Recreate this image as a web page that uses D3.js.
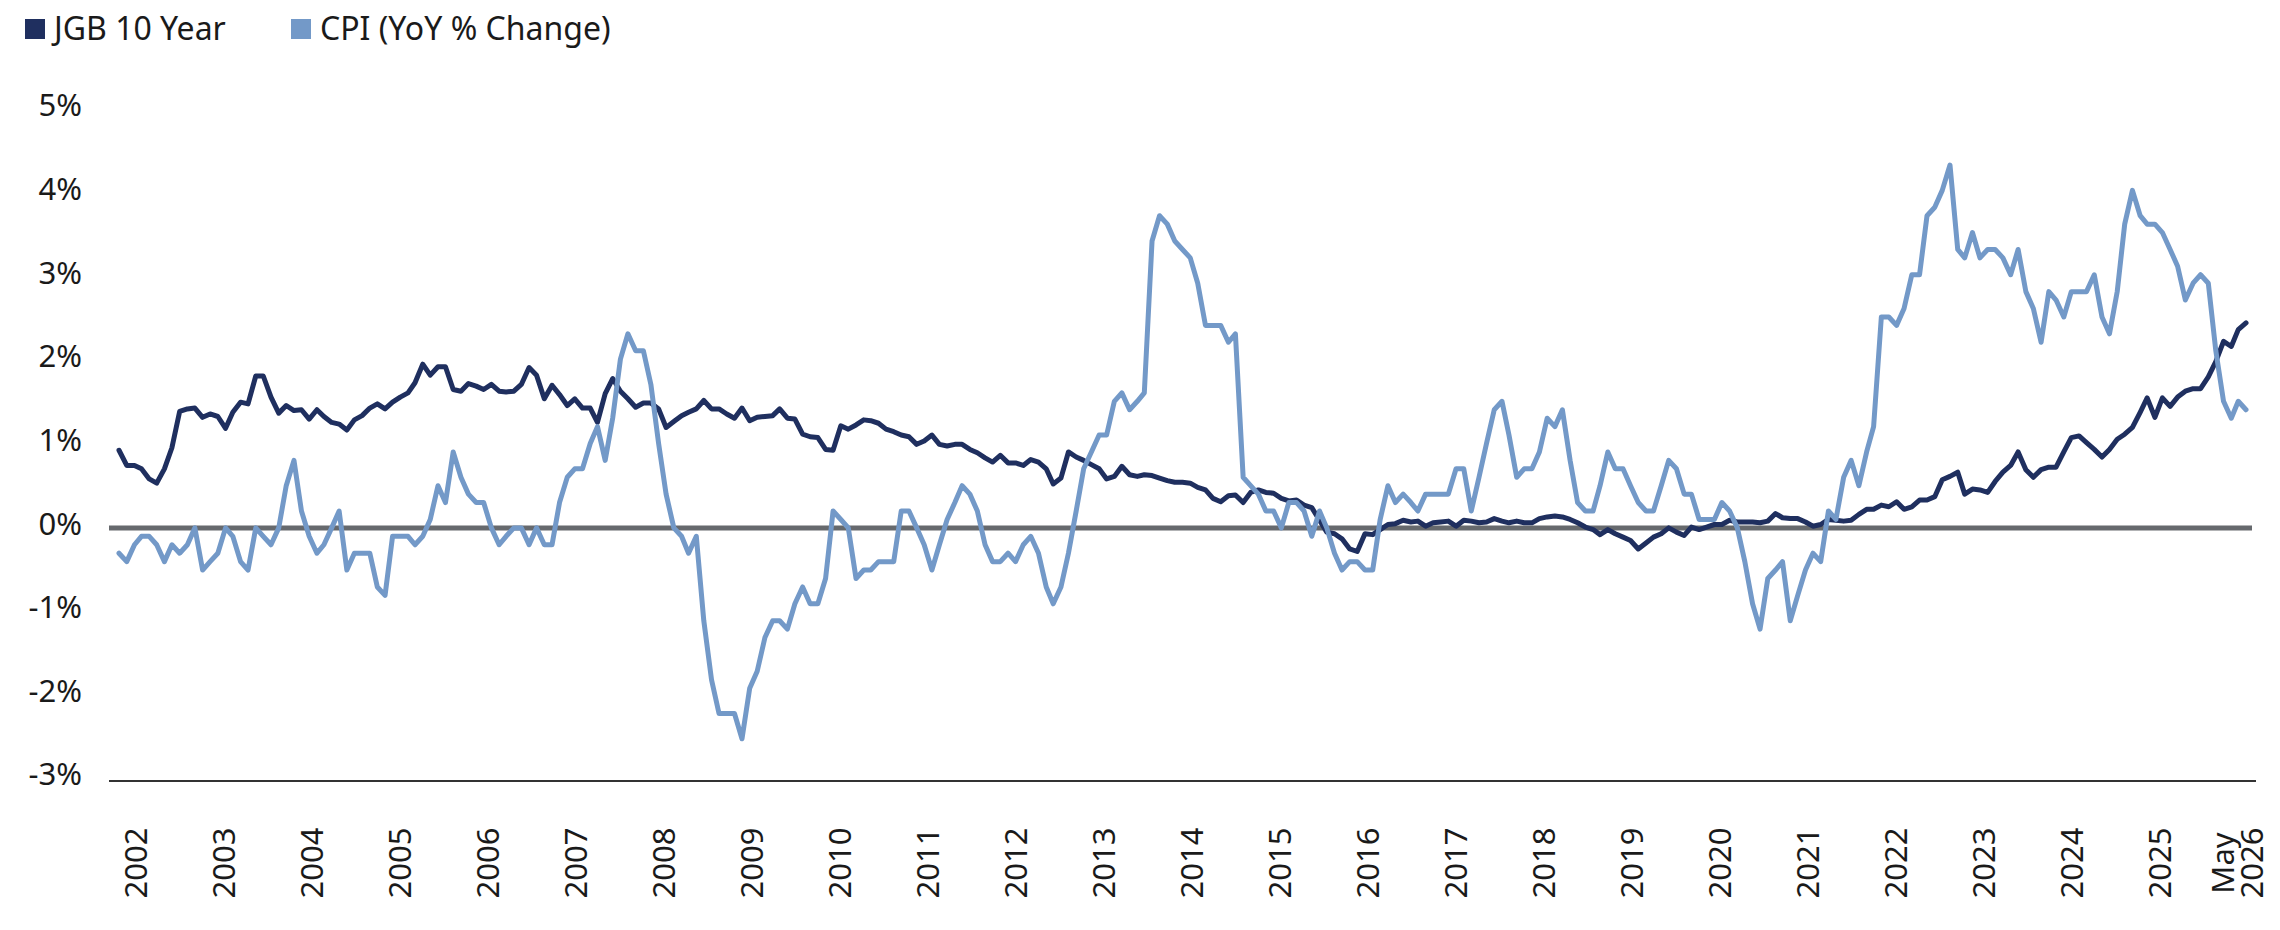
<!DOCTYPE html>
<html>
<head>
<meta charset="utf-8">
<script src="https://cdnjs.cloudflare.com/ajax/libs/d3/7.8.5/d3.min.js"></script>
<style>
  body { margin: 0; background: #ffffff; }
</style>
</head>
<body>
<div id="chart"></div>
<script>

// monthly values, Dec 2002 through Apr 2026
var firstMonth = new Date(2002, 11, 1);

var jgb10y = [
    0.92, 0.74, 0.74, 0.70, 0.58, 0.53, 0.70, 0.95, 1.38, 1.41,
    1.42, 1.31, 1.35, 1.32, 1.18, 1.37, 1.49, 1.47, 1.80, 1.80,
    1.55, 1.36, 1.45, 1.39, 1.40, 1.29, 1.40, 1.32, 1.25, 1.23,
    1.16, 1.28, 1.33, 1.42, 1.47, 1.41, 1.49, 1.55, 1.60, 1.72,
    1.94, 1.81, 1.91, 1.91, 1.64, 1.62, 1.71, 1.68, 1.64, 1.70,
    1.62, 1.61, 1.62, 1.70, 1.90, 1.81, 1.53, 1.69, 1.58, 1.45,
    1.53, 1.42, 1.42, 1.25, 1.59, 1.77, 1.62, 1.53, 1.43, 1.48,
    1.48, 1.41, 1.19, 1.26, 1.33, 1.37, 1.41, 1.51, 1.41, 1.41,
    1.35, 1.30, 1.42, 1.27, 1.31, 1.32, 1.33, 1.41, 1.30, 1.29,
    1.11, 1.08, 1.07, 0.93, 0.92, 1.21, 1.17, 1.22, 1.28, 1.27,
    1.24, 1.17, 1.14, 1.10, 1.08, 0.99, 1.03, 1.10, 0.99, 0.97,
    0.99, 0.99, 0.93, 0.89, 0.83, 0.78, 0.86, 0.77, 0.77, 0.74,
    0.81, 0.78, 0.70, 0.52, 0.59, 0.90, 0.84, 0.80, 0.75, 0.70,
    0.58, 0.61, 0.73, 0.63, 0.61, 0.63, 0.62, 0.59, 0.56, 0.54,
    0.54, 0.53, 0.48, 0.45, 0.35, 0.31, 0.38, 0.39, 0.30, 0.42,
    0.45, 0.42, 0.41, 0.35, 0.32, 0.33, 0.27, 0.24, 0.09, -0.05,
    -0.07, -0.13, -0.25, -0.28, -0.07, -0.08, -0.02, 0.04, 0.05, 0.09,
    0.07, 0.08, 0.02, 0.06, 0.07, 0.08, 0.02, 0.09, 0.08, 0.06,
    0.07, 0.11, 0.08, 0.06, 0.08, 0.06, 0.06, 0.11, 0.13, 0.14,
    0.13, 0.10, 0.06, 0.01, -0.02, -0.08, -0.02, -0.07, -0.11, -0.15,
    -0.25, -0.18, -0.11, -0.07, 0.00, -0.05, -0.09, 0.01, -0.02, 0.01,
    0.04, 0.04, 0.09, 0.07, 0.07, 0.07, 0.06, 0.08, 0.17, 0.12,
    0.11, 0.11, 0.07, 0.02, 0.04, 0.10, 0.09, 0.08, 0.09, 0.16,
    0.22, 0.22, 0.27, 0.25, 0.31, 0.22, 0.25, 0.33, 0.33, 0.37,
    0.57, 0.61, 0.66, 0.40, 0.46, 0.45, 0.42, 0.55, 0.66, 0.74,
    0.90, 0.69, 0.60, 0.69, 0.72, 0.72, 0.90, 1.07, 1.09, 1.01,
    0.93, 0.84, 0.93, 1.05, 1.11, 1.19, 1.37, 1.54, 1.31, 1.54,
    1.44, 1.55, 1.62, 1.65, 1.65, 1.79, 1.97, 2.21, 2.15, 2.35,
    2.43
];

var cpiYoY = [
    -0.3,
    -0.4, -0.2, -0.1, -0.1, -0.2, -0.4, -0.2, -0.3, -0.2, 0.0, -0.5, -0.4,
    -0.3, 0.0, -0.1, -0.4, -0.5, 0.0, -0.1, -0.2, 0.0, 0.5, 0.8, 0.2,
    -0.1, -0.3, -0.2, 0.0, 0.2, -0.5, -0.3, -0.3, -0.3, -0.7, -0.8, -0.1,
    -0.1, -0.1, -0.2, -0.1, 0.1, 0.5, 0.3, 0.9, 0.6, 0.4, 0.3, 0.3,
    0.0, -0.2, -0.1, 0.0, 0.0, -0.2, 0.0, -0.2, -0.2, 0.3, 0.6, 0.7,
    0.7, 1.0, 1.2, 0.8, 1.3, 2.0, 2.3, 2.1, 2.1, 1.7, 1.0, 0.4,
    0.0, -0.1, -0.3, -0.1, -1.1, -1.8, -2.2, -2.2, -2.2, -2.5, -1.9, -1.7,
    -1.3, -1.1, -1.1, -1.2, -0.9, -0.7, -0.9, -0.9, -0.6, 0.2, 0.1, 0.0,
    -0.6, -0.5, -0.5, -0.4, -0.4, -0.4, 0.2, 0.2, 0.0, -0.2, -0.5, -0.2,
    0.1, 0.3, 0.5, 0.4, 0.2, -0.2, -0.4, -0.4, -0.3, -0.4, -0.2, -0.1,
    -0.3, -0.7, -0.9, -0.7, -0.3, 0.2, 0.7, 0.9, 1.1, 1.1, 1.5, 1.6,
    1.4, 1.5, 1.6, 3.4, 3.7, 3.6, 3.4, 3.3, 3.2, 2.9, 2.4, 2.4,
    2.4, 2.2, 2.3, 0.6, 0.5, 0.4, 0.2, 0.2, 0.0, 0.3, 0.3, 0.2,
    -0.1, 0.2, 0.0, -0.3, -0.5, -0.4, -0.4, -0.5, -0.5, 0.1, 0.5, 0.3,
    0.4, 0.3, 0.2, 0.4, 0.4, 0.4, 0.4, 0.7, 0.7, 0.2, 0.6, 1.0,
    1.4, 1.5, 1.1, 0.6, 0.7, 0.7, 0.9, 1.3, 1.2, 1.4, 0.8, 0.3,
    0.2, 0.2, 0.5, 0.9, 0.7, 0.7, 0.5, 0.3, 0.2, 0.2, 0.5, 0.8,
    0.7, 0.4, 0.4, 0.1, 0.1, 0.1, 0.3, 0.2, 0.0, -0.4, -0.9, -1.2,
    -0.6, -0.5, -0.4, -1.1, -0.8, -0.5, -0.3, -0.4, 0.2, 0.1, 0.6, 0.8,
    0.5, 0.9, 1.2, 2.5, 2.5, 2.4, 2.6, 3.0, 3.0, 3.7, 3.8, 4.0,
    4.3, 3.3, 3.2, 3.5, 3.2, 3.3, 3.3, 3.2, 3.0, 3.3, 2.8, 2.6,
    2.2, 2.8, 2.7, 2.5, 2.8, 2.8, 2.8, 3.0, 2.5, 2.3, 2.8, 3.6,
    4.0, 3.7, 3.6, 3.6, 3.5, 3.3, 3.1, 2.7, 2.9, 3.0, 2.9, 2.1,
    1.5, 1.3, 1.5, 1.4
];

var xTickLabels = ["2002", "2003", "2004", "2005", "2006", "2007", "2008", "2009",
    "2010", "2011", "2012", "2013", "2014", "2015", "2016", "2017", "2018", "2019",
    "2020", "2021", "2022", "2023", "2024", "2025", "May 2026"];

var yTicks = [-3, -2, -1, 0, 1, 2, 3, 4, 5];

var seriesNames = ["JGB 10 Year", "CPI (YoY % Change)"];
var seriesColors = ["#1f2f5f", "#7399c8"];

// chart area
var svgWidth = 2280;
var svgHeight = 930;

var plot = {
    left: 109,
    right: 2254,
    top: 106,
    bottom: 781,
    dataLeft: 119,
    dataRight: 2246
};

var fontTicks = "'Noto Sans', sans-serif";

var svg = d3.select("#chart")
    .append("svg")
    .attr("width", svgWidth)
    .attr("height", svgHeight)
    .style("display", "block");

var months = jgb10y.map(function (d, i) {
    return d3.timeMonth.offset(firstMonth, i);
});

var xScale = d3.scaleTime()
    .domain(d3.extent(months))
    .range([plot.dataLeft, plot.dataRight]);

var yScale = d3.scaleLinear()
    .domain([-3, 5])
    .range([plot.bottom, plot.top]);

// the % labels sit a touch tighter than the lines
var yLabelScale = d3.scaleLinear()
    .domain([-3, 5])
    .range([775, 106]);

// year labels are evenly spaced on their own
var labelScale = d3.scalePoint()
    .domain(xTickLabels)
    .range([135, 2247]);

// zero line
svg.append("line")
    .attr("x1", plot.left)
    .attr("x2", plot.right - 2)
    .attr("y1", yScale(0))
    .attr("y2", yScale(0))
    .style("stroke", "#66696d")
    .style("stroke-width", 5);

// bottom axis line
svg.append("line")
    .attr("x1", plot.left)
    .attr("x2", plot.right + 2)
    .attr("y1", yScale(-3))
    .attr("y2", yScale(-3))
    .style("stroke", "#333333")
    .style("stroke-width", 2);

// y axis labels
var yAxis = d3.axisLeft(yLabelScale)
    .tickValues(yTicks)
    .tickSize(0)
    .tickPadding(27)
    .tickFormat(function (d) { return d + "%"; });

var yAxisGroup = svg.append("g")
    .attr("transform", `translate(${plot.left}, 0)`)
    .call(yAxis);

yAxisGroup.select(".domain").remove();
yAxisGroup.selectAll("text")
    .style("font-family", fontTicks)
    .style("font-size", "31px")
    .style("fill", "#1a1a1a");

// x axis labels, rotated and centred
var xAxis = d3.axisBottom(labelScale)
    .tickSize(0);

var xAxisGroup = svg.append("g")
    .attr("transform", `translate(0, ${plot.bottom})`)
    .call(xAxis);

xAxisGroup.select(".domain").remove();
xAxisGroup.selectAll("text")
    .attr("transform", "rotate(-90)")
    .attr("x", -82)
    .attr("y", 0)
    .attr("dy", "0.36em")
    .style("text-anchor", "middle")
    .style("font-family", fontTicks)
    .style("font-size", "31px")
    .style("fill", "#1a1a1a")
    .each(function (d) {
        var parts = d.split(" ");
        if (parts.length > 1) {
            var t = d3.select(this).text(null).attr("dy", null);
            t.append("tspan").attr("x", -82).attr("dy", "-0.45em").text(parts[0]);
            t.append("tspan").attr("x", -82).attr("dy", "0.94em").text(parts[1]);
        }
    });

// lines
var series = [jgb10y, cpiYoY];

var line = d3.line()
    .x(function (d, i) { return xScale(months[i]); })
    .y(function (d) { return yScale(d); });

series.forEach(function (values, k) {
    svg.append("path")
        .datum(values)
        .attr("d", line)
        .style("fill", "none")
        .style("stroke", seriesColors[k])
        .style("stroke-width", 5)
        .style("stroke-linejoin", "round")
        .style("stroke-linecap", "round");
});

// legend
var legendX = [25, 291];
var legend = svg.selectAll(".legend")
    .data(seriesNames)
    .enter()
    .append("g")
    .attr("class", "legend")
    .attr("transform", function (d, i) { return `translate(${legendX[i]}, 19)`; });

legend.append("rect")
    .attr("width", 20)
    .attr("height", 20)
    .style("fill", function (d, i) { return seriesColors[i]; });

legend.append("text")
    .attr("x", 29)
    .attr("y", 21)
    .text(function (d) { return d; })
    .style("font-family", "'Noto Sans', sans-serif")
    .style("font-size", "32px")
    .style("fill", "#1a1a1a");

</script>
</body>
</html>
